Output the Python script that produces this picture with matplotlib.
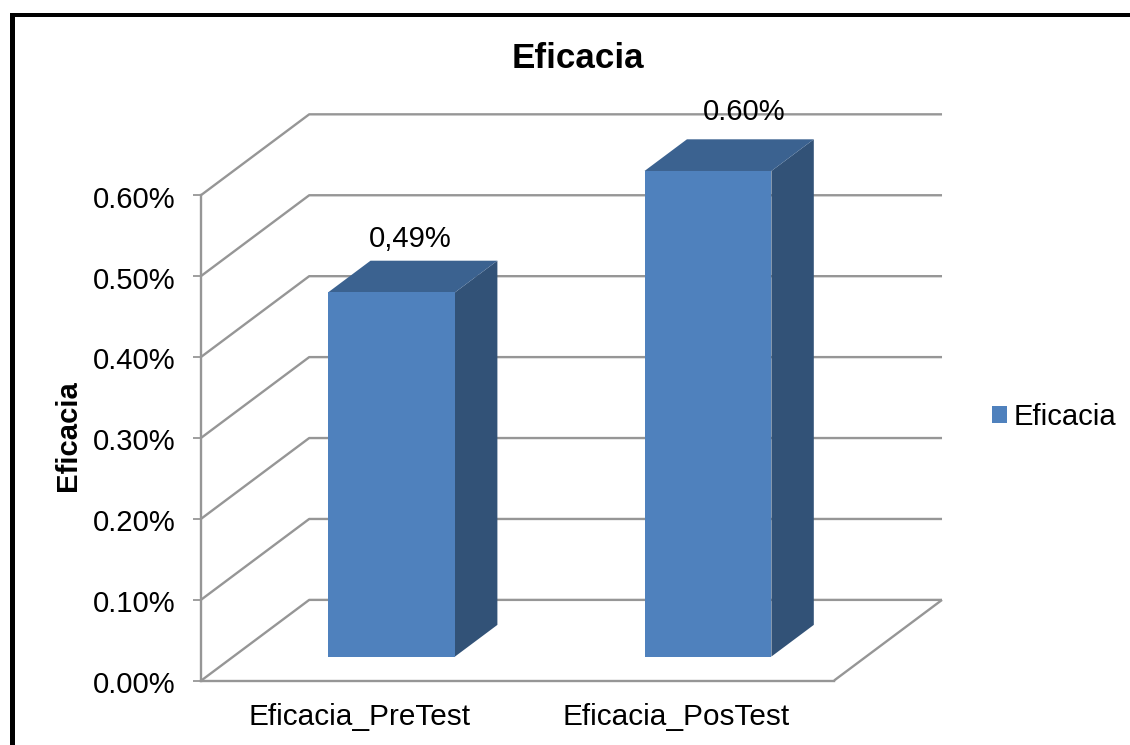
import matplotlib
matplotlib.use("Agg")
import matplotlib.pyplot as plt
from matplotlib.patches import Patch, Polygon, Rectangle
from matplotlib.transforms import ScaledTranslation

categories = ["Eficacia_PreTest", "Eficacia_PosTest"]
values = [0.45, 0.60]
value_labels = ["0,49%", "0.60%"]
yticks = [0.0, 0.1, 0.2, 0.3, 0.4, 0.5, 0.6]
series_name = "Eficacia"

FRONT = "#4F81BD"
TOP = "#3B6290"
SIDE = "#325277"
GRID = "#969696"

# how far the back wall sits from the front plane, in data units
DEPTH_X = 0.341
DEPTH_Y = 0.0996
BAR_WIDTH = 0.401
BAR_D0 = 0.297
BAR_D1 = 0.69
FONT = 21.1


def proj(x, y, d):
    return x + d * DEPTH_X, y + d * DEPTH_Y


def draw_bar(ax, x, value):
    left, right = x - BAR_WIDTH / 2, x + BAR_WIDTH / 2
    front = [proj(left, 0, BAR_D0), proj(right, 0, BAR_D0),
             proj(right, value, BAR_D0), proj(left, value, BAR_D0)]
    side = [proj(right, 0, BAR_D0), proj(right, 0, BAR_D1),
            proj(right, value, BAR_D1), proj(right, value, BAR_D0)]
    top = [proj(left, value, BAR_D0), proj(right, value, BAR_D0),
           proj(right, value, BAR_D1), proj(left, value, BAR_D1)]
    ax.add_patch(Polygon(side, facecolor=SIDE, edgecolor="none", zorder=3))
    ax.add_patch(Polygon(top, facecolor=TOP, edgecolor="none", zorder=3))
    ax.add_patch(Polygon(front, facecolor=FRONT, edgecolor="none", zorder=4))


plt.rcParams["font.family"] = ["Liberation Sans", "DejaVu Sans"]
W, H = 1130, 745
fig = plt.figure(figsize=(W / 100, H / 100), dpi=100)
ax = fig.add_axes([201.3 / W, 1 - 680.5 / H, 740.4 / W, 566.5 / H])
ax.set_xlim(-0.5, 1.84)
ax.set_ylim(0, 0.7)
ax.patch.set_alpha(0)

# walls and floor
x0, x1 = -0.5, 1.5
for y in yticks:
    bx0, by = proj(x0, y, 1)
    bx1, _ = proj(x1, y, 1)
    ax.plot([x0, bx0, bx1], [y, by, by], color=GRID, lw=1.7, zorder=1, clip_on=False,
            solid_capstyle="butt")
fx, fy = proj(x1, 0, 1)
ax.plot([x1, fx], [0, fy], color=GRID, lw=1.7, zorder=1, clip_on=False,
        solid_capstyle="butt")

xs = list(range(len(categories)))
for x, v in zip(xs, values):
    draw_bar(ax, x, v)

# labels were moved by hand in the original, hence the separate offsets
label_offsets = [(-24, 8), (-6, 13)]
for x, v, lab, off in zip(xs, values, value_labels, label_offsets):
    px, py = proj(x, v, BAR_D1)
    ax.annotate(lab, (px, py), xytext=off, textcoords="offset pixels",
                ha="center", va="bottom", fontsize=FONT, color="black", zorder=5)

for s in ["top", "right"]:
    ax.spines[s].set_visible(False)
ax.spines["left"].set_bounds(0, 0.6)
ax.spines["bottom"].set_bounds(x0, x1)
for s in ["left", "bottom"]:
    ax.spines[s].set_color(GRID)
    ax.spines[s].set_linewidth(1.7)

ax.set_yticks(yticks)
ax.set_yticklabels(["%.2f%%" % y for y in yticks], fontsize=FONT)
ax.tick_params(axis="y", length=5.8, width=1.3, color=GRID, pad=12.5)
# tick labels sit a little under their ticks in the original
nudge = ScaledTranslation(0, -1.2 / 72, fig.dpi_scale_trans)
for lbl in ax.get_yticklabels():
    lbl.set_transform(lbl.get_transform() + nudge)
ax.set_xticks(xs)
ax.set_xticklabels(categories, fontsize=21.4)
ax.tick_params(axis="x", length=0, pad=16)

fig.text(578 / W, 1 - 58 / H, "Eficacia", fontsize=25.2, fontweight="bold",
         ha="center", va="center")
fig.text(68 / W, 1 - 436 / H, "Eficacia", fontsize=FONT, fontweight="bold",
         rotation=90, ha="center", va="center")

fig.legend(handles=[Patch(facecolor=FRONT, label=series_name)],
           loc="center left", bbox_to_anchor=(992 / W, 1 - 417 / H), frameon=False,
           fontsize=FONT, handlelength=0.52, handleheight=0.52, handletextpad=0.22,
           borderpad=0, borderaxespad=0)

# frame of the pasted picture, only top and left show
fig.add_artist(Rectangle((10 / W, 0), 5 / W, 1 - 13 / H, transform=fig.transFigure,
                         facecolor="black", edgecolor="none"))
fig.add_artist(Rectangle((10 / W, 1 - 16.5 / H), 1 - 10 / W, 3.5 / H, transform=fig.transFigure,
                         facecolor="black", edgecolor="none"))

fig.savefig("out.png", dpi=100)
